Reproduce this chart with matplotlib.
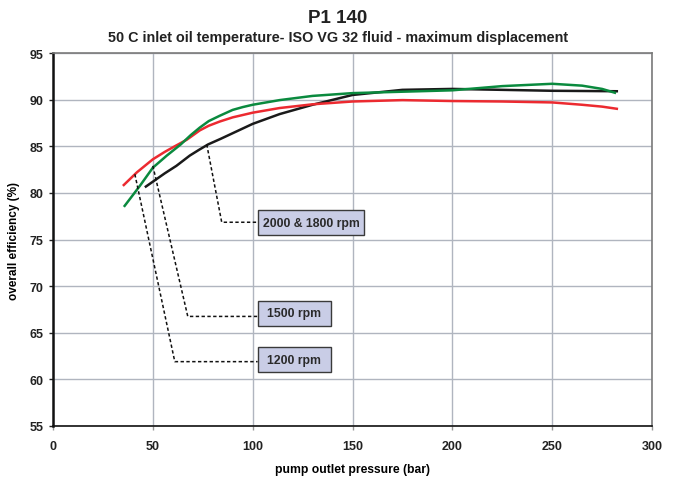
import matplotlib
matplotlib.use("Agg")
import matplotlib.pyplot as plt
from matplotlib.patches import Rectangle

plt.rcParams['font.family'] = ['Liberation Sans', 'DejaVu Sans']
plt.rcParams['font.weight'] = 'bold'

# Overall efficiency (%) versus pump outlet pressure (bar)
p_1200 = [35, 42, 50, 56, 61, 67, 73.5, 78, 83.5, 90, 100, 113.5, 130, 150, 175, 200, 225, 250, 265, 275, 283]
eff_1200 = [80.75, 82.2, 83.6, 84.4, 85.0, 85.7, 86.7, 87.2, 87.65, 88.1, 88.6, 89.1, 89.5, 89.8, 89.95,
            89.85, 89.8, 89.7, 89.45, 89.25, 89.0]

p_1500 = [35.5, 43.5, 50, 57, 64, 69, 73.5, 78, 83.5, 90, 95, 100, 113.5, 130, 150, 175, 200, 225, 250,
          265, 275, 282]
eff_1500 = [78.5, 80.75, 82.7, 84.0, 85.2, 86.2, 87.0, 87.7, 88.27, 88.9, 89.2, 89.45, 89.95, 90.4, 90.7,
            90.85, 91.0, 91.45, 91.7, 91.5, 91.15, 90.7]

p_2000 = [46, 50, 56, 61.8, 68.5, 73, 77.7, 84, 90, 100, 113.5, 130, 150, 175, 200, 225, 250, 283]
eff_2000 = [80.6, 81.2, 82.1, 82.9, 84.0, 84.6, 85.2, 85.8, 86.4, 87.4, 88.45, 89.45, 90.5, 91.05, 91.15,
            91.05, 90.95, 90.9]

x_ticks = [0, 50, 100, 150, 200, 250, 300]
y_ticks = [55, 60, 65, 70, 75, 80, 85, 90, 95]

# Callout labels: text, anchor on curve, elbow point, box extent (x0, x1, yc)
labels = ["2000 & 1800 rpm", "1500 rpm", "1200 rpm"]
anchors = [(77, 85.2), (50, 82.9), (41, 82.0)]
elbows = [(84.5, 76.85), (67.5, 66.75), (61, 61.9)]
boxes = [(102.5, 156, 76.8), (102.5, 139, 67.1), (102.5, 139, 62.1)]
leader_ends = [102.5, 106, 102.5]

fig = plt.figure(figsize=(6.76, 4.81), dpi=100)
ax = fig.add_axes([0.0784, 0.1123, 0.8861, 0.7754])

ax.set_xlim(0, 300)
ax.set_ylim(55, 95)
ax.set_xticks(x_ticks)
ax.set_yticks(y_ticks)
ax.grid(True, color='#b0b5bf', linewidth=1.0)
ax.set_axisbelow(True)

for s in ['top', 'right']:
    ax.spines[s].set_color('#7a7a7a')
    ax.spines[s].set_linewidth(1.2)
ax.spines['left'].set_color('#111111')
ax.spines['left'].set_linewidth(1.8)
ax.spines['bottom'].set_color('#111111')
ax.spines['bottom'].set_linewidth(1.2)

ax.tick_params(axis='y', direction='out', length=3, width=1, color='#222222',
               labelsize=9, pad=4)
ax.tick_params(axis='x', direction='out', length=3, width=1, color='#999999',
               labelsize=9, pad=7)
for t in ax.get_xticklabels() + ax.get_yticklabels():
    t.set_fontweight('bold')
    t.set_color('#222222')

ax.plot(p_2000, eff_2000, color='#1a1a1a', linewidth=1.8, solid_capstyle='butt', zorder=3)
ax.plot(p_1200, eff_1200, color='#ec2a30', linewidth=1.8, solid_capstyle='butt', zorder=3)
ax.plot(p_1500, eff_1500, color='#0a8a3e', linewidth=1.8, solid_capstyle='butt', zorder=3)

for text, (ax0, ay0), (ex, ey), (bx0, bx1, byc), lend in zip(labels, anchors, elbows, boxes, leader_ends):
    ax.plot([ax0, ex, lend], [ay0, ey, ey], color='#111111', linewidth=1.1,
            linestyle=(0, (2.2, 1.6)), zorder=4)
    h = 2.7
    ax.add_patch(Rectangle((bx0, byc - h / 2), bx1 - bx0, h, facecolor='#c9cde6',
                           edgecolor='#3a3a3a', linewidth=1.0, zorder=5))
    ax.text((bx0 + bx1) / 2, byc, text, ha='center', va='center', fontsize=8.8,
            fontweight='bold', color='#2a2a2a', zorder=6)

ax.set_xlabel('pump outlet pressure (bar)', fontsize=8.7, fontweight='bold', labelpad=8)
ax.set_ylabel('overall efficiency (%)', fontsize=8.5, fontweight='bold', labelpad=7)

fig.text(0.5, 0.962, 'P1 140', ha='center', va='center', fontsize=13.5, fontweight='bold', color='#222222')
fig.text(0.5, 0.922, '50 C inlet oil temperature- ISO VG 32 fluid - maximum displacement',
         ha='center', va='center', fontsize=10.4, fontweight='bold', color='#222222')

fig.savefig('out.png', dpi=100)
